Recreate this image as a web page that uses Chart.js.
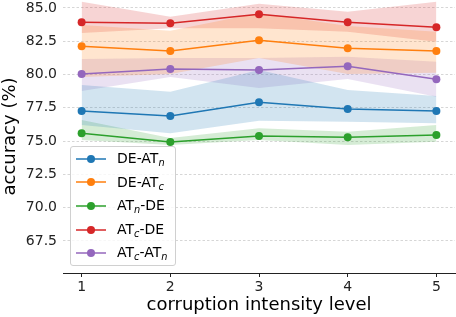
<!DOCTYPE html>
<html><head><meta charset="utf-8">
<script src="https://cdn.jsdelivr.net/npm/chart.js@4"></script>
<style>
html,body{margin:0;padding:0;background:#fff;}
#wrap{position:relative;width:456px;height:317px;overflow:hidden;}
#c{position:absolute;left:0;top:-4px;}
#legend{position:absolute;left:70px;top:146px;width:104px;height:118px;border:1px solid #d0d0d0;border-radius:3px;background:rgba(255,255,255,0.8);font-family:"DejaVu Sans";font-size:14px;color:#000;}
.row{position:relative;height:23.6px;line-height:23.6px;white-space:nowrap;}
.row svg{position:absolute;left:5px;top:5.8px;}
.row span{position:absolute;left:46px;top:0;}
.row sub{font-style:italic;font-size:70%;vertical-align:-3px;line-height:0;}
</style></head><body>
<div id="wrap"><canvas id="c" width="459" height="321"></canvas><div id="legend"></div></div>
<script>
const levels = [1, 2, 3, 4, 5];
const xTicks = [1, 2, 3, 4, 5];
const yTicks = [67.5, 70.0, 72.5, 75.0, 77.5, 80.0, 82.5, 85.0];

const deATn   = [77.26, 76.89, 77.92, 77.41, 77.26];
const deATnHi = [79.21, 78.71, 80.34, 78.84, 78.39];
const deATnLo = [76.21, 75.59, 76.53, 76.46, 76.34];

const deATc   = [82.12, 81.77, 82.57, 81.97, 81.77];
const deATcHi = [83.72, 83.29, 84.62, 83.65, 83.22];
const deATcLo = [79.82, 80.04, 81.24, 80.04, 80.14];

const atnDE   = [75.59, 74.93, 75.38, 75.29, 75.46];
const atnDEHi = [76.59, 75.23, 75.96, 75.71, 76.21];
const atnDELo = [75.08, 74.71, 75.08, 74.71, 74.95];

const atcDE   = [83.92, 83.85, 84.53, 83.92, 83.55];
const atcDEHi = [85.47, 84.35, 85.32, 84.72, 85.47];
const atcDELo = [83.12, 83.47, 83.47, 83.22, 82.47];

const atcATn   = [80.04, 80.42, 80.34, 80.62, 79.64];
const atcATnHi = [81.17, 81.24, 81.24, 81.34, 80.97];
const atcATnLo = [78.76, 79.82, 78.99, 79.67, 78.34];

const series = [
  {label: 'DE-AT', sub: 'n', tail: '', color: '#1f77b4', rgb: '31,119,180', v: deATn, hi: deATnHi, lo: deATnLo},
  {label: 'DE-AT', sub: 'c', tail: '', color: '#ff7f0e', rgb: '255,127,14', v: deATc, hi: deATcHi, lo: deATcLo},
  {label: 'AT', sub: 'n', tail: '-DE', color: '#2ca02c', rgb: '44,160,44', v: atnDE, hi: atnDEHi, lo: atnDELo},
  {label: 'AT', sub: 'c', tail: '-DE', color: '#d62728', rgb: '214,39,40', v: atcDE, hi: atcDEHi, lo: atcDELo},
  {label: 'AT', sub: 'c', tail: '-AT<sub>n</sub>', color: '#9467bd', rgb: '148,103,189', v: atcATn, hi: atcATnHi, lo: atcATnLo}
];

const pts = arr => levels.map((x, i) => ({x: x, y: arr[i]}));
const datasets = [];
series.forEach((s, i) => {
  datasets.push({
    label: s.label + s.sub + s.tail, data: pts(s.v), borderColor: s.color, backgroundColor: s.color,
    borderWidth: 1.5, pointRadius: 4, pointBorderWidth: 0, pointBackgroundColor: s.color,
    fill: false, tension: 0, order: 5 - i
  });
});
series.forEach((s, i) => {
  const idx = datasets.length;
  datasets.push({data: pts(s.hi), borderWidth: 0, pointRadius: 0, fill: idx + 1,
    backgroundColor: 'rgba(' + s.rgb + ',0.2)', borderColor: 'rgba(0,0,0,0)', order: 10});
  datasets.push({data: pts(s.lo), borderWidth: 0, pointRadius: 0, fill: false,
    borderColor: 'rgba(0,0,0,0)', order: 10});
});

const FONT = '"DejaVu Sans", sans-serif';
const chart = new Chart(document.getElementById('c'), {
  type: 'line',
  data: {datasets: datasets},
  options: {
    responsive: false, animation: false,
    layout: {padding: {top: 0, right: 1, left: 0, bottom: 0}},
    plugins: {legend: {display: false}, tooltip: {enabled: false}},
    scales: {
      x: {
        type: 'linear', min: 0.79, max: 5.21,
        afterBuildTicks: a => { a.ticks = xTicks.map(v => ({value: v})); },
        afterFit: a => { a.height = 44; a.paddingLeft = 0; a.paddingRight = 0; },
        grid: {display: true, drawOnChartArea: false, drawTicks: true, tickLength: 4, color: '#222', lineWidth: 1},
        border: {display: true, color: '#222', width: 1},
        ticks: {color: '#222', font: {family: FONT, size: 14}, padding: 2, callback: v => String(v)},
        title: {display: true, text: 'corruption intensity level', color: '#000', font: {family: FONT, size: 18}, padding: {top: 0, bottom: 1}}
      },
      y: {
        type: 'linear', min: 65.09, max: 85.6,
        afterBuildTicks: a => { a.ticks = yTicks.map(v => ({value: v})); },
        afterFit: a => { a.width = 63; a.paddingTop = 0; a.paddingBottom = 0; },
        grid: {color: '#cccccc', lineWidth: 0.8, drawTicks: false},
        border: {display: false, dash: [2.5, 2]},
        ticks: {color: '#222', font: {family: FONT, size: 14}, padding: 6, callback: v => v.toFixed(1)},
        title: {display: true, text: 'accuracy (%)', color: '#000', font: {family: FONT, size: 18}, padding: {top: 0, bottom: 0}}
      }
    }
  }
});

const leg = document.getElementById('legend');
series.forEach(s => {
  const row = document.createElement('div');
  row.className = 'row';
  row.innerHTML = '<svg width="30" height="12"><line x1="0" y1="6" x2="30" y2="6" stroke="' + s.color + '" stroke-width="1.5"/><circle cx="15" cy="6" r="4" fill="' + s.color + '"/></svg>' +
    '<span>' + s.label + '<sub>' + s.sub + '</sub>' + s.tail + '</span>';
  leg.appendChild(row);
});
</script>
</body></html>
